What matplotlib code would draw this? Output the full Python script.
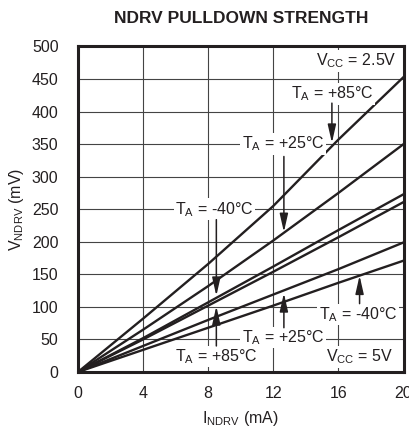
import matplotlib
matplotlib.use("Agg")
import matplotlib.pyplot as plt

plt.rcParams['font.family'] = ['Liberation Sans', 'DejaVu Sans']
plt.rcParams['mathtext.default'] = 'regular'

current = [0, 4, 8, 12, 16, 20]  # mA
# VCC = 2.5V
v25_85 = [0, 82, 166, 255, 357, 453]
v25_25 = [0, 65, 132, 202, 275, 350]
v25_m40 = [0, 52, 107, 162, 218, 273]
# VCC = 5V
v5_85 = [0, 50, 102, 154, 207, 261]
v5_25 = [0, 40, 80, 119, 158, 199]
v5_m40 = [0, 34, 68, 102, 137, 171]

xticks = [0, 4, 8, 12, 16, 20]
yticks = list(range(0, 501, 50))

fig = plt.figure(figsize=(4.09, 4.30), dpi=100)
ax = fig.add_axes([0.1907, 0.1349, 0.7959, 0.757])

for ys in [v25_85, v25_25, v25_m40, v5_85, v5_25, v5_m40]:
    ax.plot(current, ys, color='#231f20', lw=1.7, zorder=3)

ax.set_xlim(0, 20)
ax.set_ylim(0, 500)
ax.set_xticks(xticks)
ax.set_yticks(yticks)
ax.grid(True, color='#444444', lw=0.8, zorder=1)
ax.tick_params(length=0, labelsize=11.5, colors='#231f20')
ax.tick_params(axis='y', pad=14)
ax.tick_params(axis='x', pad=10)
for s in ax.spines.values():
    s.set_linewidth(2.2)
    s.set_color('#231f20')

ax.set_xlabel('I$_{NDRV}$ (mA)', fontsize=11.5, labelpad=6, color='#231f20')
ax.set_ylabel('V$_{NDRV}$ (mV)', fontsize=11.5, labelpad=4, color='#231f20')
fig.suptitle('NDRV PULLDOWN STRENGTH', x=0.59, y=0.975, fontsize=12.5,
             fontweight='bold', color='#231f20')

box = dict(facecolor='white', edgecolor='none', pad=1.0)
lbl = dict(fontsize=11.5, color='#231f20', ha='center', va='center', zorder=5)
arw = dict(arrowstyle='-|>,head_width=0.25,head_length=1.1', color='#231f20',
           lw=1.1, shrinkA=0, shrinkB=0)

ax.text(19.6, 478, 'V$_{CC}$ = 2.5V', bbox=box, **{**lbl, 'ha': 'right'})
ax.text(15.6, 427, 'T$_A$ = +85°C', bbox=box, **lbl)
ax.annotate('', xy=(15.6, 352), xytext=(15.6, 413), arrowprops=arw, zorder=6)
ax.text(12.6, 350, 'T$_A$ = +25°C', bbox=box, **lbl)
ax.annotate('', xy=(12.65, 215), xytext=(12.65, 331), arrowprops=arw, zorder=6)
ax.text(8.4, 250, 'T$_A$ = -40°C', bbox=box, **lbl)
ax.annotate('', xy=(8.5, 117), xytext=(8.5, 234), arrowprops=arw, zorder=6)

ax.text(8.5, 24, 'T$_A$ = +85°C', bbox=box, **lbl)
ax.annotate('', xy=(8.5, 101), xytext=(8.5, 40), arrowprops=arw, zorder=6)
ax.text(12.6, 53, 'T$_A$ = +25°C', bbox=box, **lbl)
ax.annotate('', xy=(12.65, 121), xytext=(12.65, 68), arrowprops=arw, zorder=6)
ax.text(17.2, 88, 'T$_A$ = -40°C', bbox=box, **lbl)
ax.annotate('', xy=(17.3, 148), xytext=(17.3, 105), arrowprops=arw, zorder=6)
ax.text(17.3, 23, 'V$_{CC}$ = 5V', bbox=box, **lbl)

fig.savefig('out.png', dpi=100)
